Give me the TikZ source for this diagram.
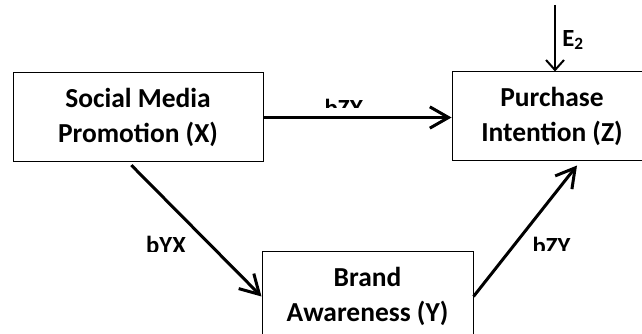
\documentclass[tikz,border=0pt]{standalone}
\usepackage{fontspec}
\setmainfont{Carlito}
\usetikzlibrary{arrows.meta}

\begin{document}
\begin{tikzpicture}[x=0.75pt,y=-0.75pt,
  box/.style={draw, line width=0.75pt, minimum height=66.75pt, align=center, inner sep=0pt, font=\fontsize{20.6}{26.25}\selectfont\bfseries},
  link/.style={line width=2.25pt, -{Straight Barb[length=14pt,width=16pt]}},
  coef/.style={font=\fontsize{18.5}{20}\selectfont\bfseries, inner sep=0pt, anchor=base}]
\useasboundingbox (0,0) rectangle (642,334);
\clip (0,0) rectangle (642,334);
% variables
\node [box, minimum width=187.5pt] (smp) at (138,117.5) {Social Media\\Promotion (X)};
\node [box, minimum width=150pt] (pi) at (552,116.5) {Purchase\\Intention (Z)};
\node [box, minimum width=158.25pt] (ba) at (367.5,296.5) {Brand\\Awareness (Y)};
% paths
\draw [link] (smp.east) -- (smp.east -| pi.west);
\draw [link] ([xshift=-5pt,yshift=-2pt]smp.south) -- (ba.west);
\draw [link] (ba.east) -- ([xshift=18.75pt,yshift=-3pt]pi.south);
\coordinate (e2) at (555,5);
\draw [line width=1.5pt, -{Straight Barb[length=7.5pt,width=13.5pt]}] (e2) -- (e2 |- pi.north);
\node [coef, anchor=west] (etwo) at (562,40) {E\textsubscript{2}};
% coefficients
\begin{scope}
\clip (300,0) rectangle (400,108);
\node [coef] (bzx) at (344,117) {bZX};
\end{scope}
\begin{scope}
\clip (100,200) rectangle (220,252);
\node [coef] (byx) at (166,254) {bYX};
\end{scope}
\begin{scope}
\clip (500,200) rectangle (600,251);
\node [coef] (bzy) at (551.5,255) {bZY};
\end{scope}
\end{tikzpicture}
\end{document}
